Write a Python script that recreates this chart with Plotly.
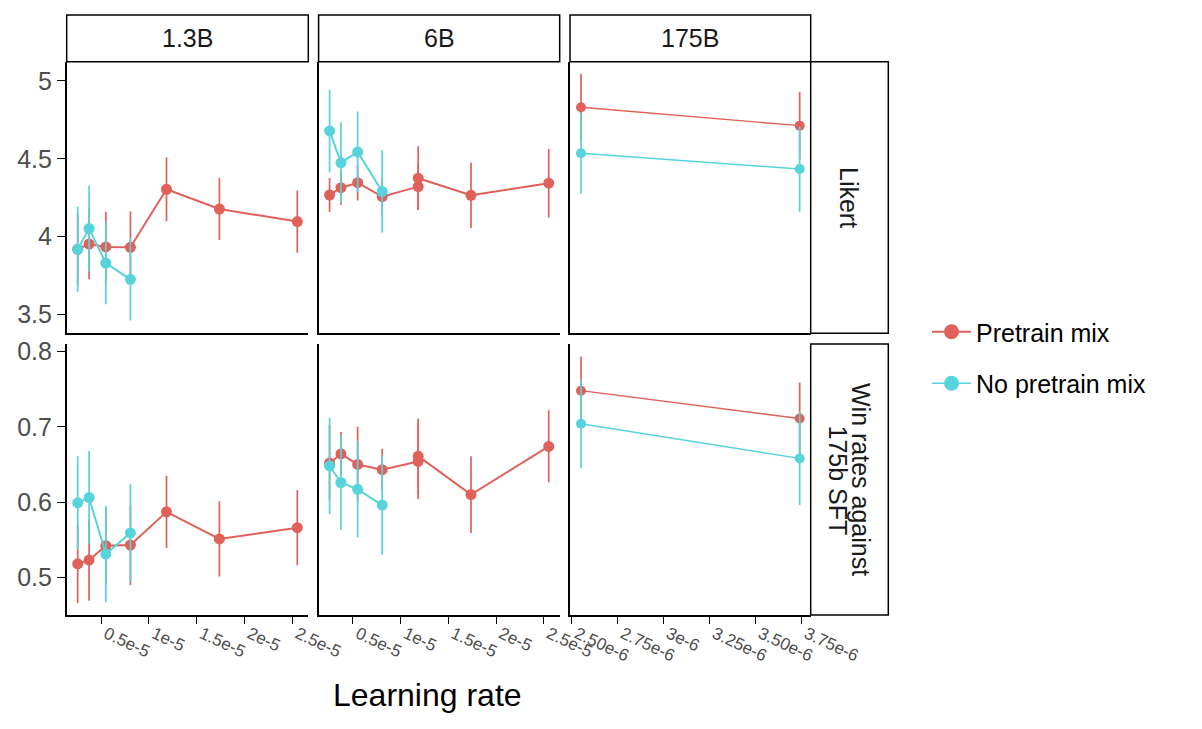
import plotly.graph_objects as go

# learning rates (x)
lr_small = [2.55e-6, 3.74e-6, 5.49e-6, 8.06e-6, 1.183e-5, 1.736e-5, 2.55e-5]
lr_6b_mix = [2.55e-6, 3.74e-6, 5.49e-6, 8.06e-6, 1.183e-5, 1.183e-5, 1.736e-5, 2.55e-5]
lr_no_mix = [2.55e-6, 3.74e-6, 5.49e-6, 8.06e-6]
lr_175b = [2.55e-6, 3.74e-6]

# Likert
likert_13b_mix = [3.918, 3.952, 3.933, 3.931, 4.304, 4.177, 4.096]
likert_13b_mix_err = [0.23, 0.227, 0.227, 0.23, 0.205, 0.2, 0.2]
likert_13b_nomix = [3.918, 4.051, 3.83, 3.725]
likert_13b_nomix_err = [0.275, 0.276, 0.265, 0.265]
likert_6b_mix = [4.267, 4.314, 4.346, 4.256, 4.321, 4.375, 4.265, 4.343]
likert_6b_mix_err = [0.11, 0.11, 0.115, 0.12, 0.15, 0.205, 0.21, 0.22]
likert_6b_nomix = [4.679, 4.475, 4.544, 4.289]
likert_6b_nomix_err = [0.265, 0.26, 0.26, 0.265]
likert_175b_mix = [4.831, 4.713]
likert_175b_mix_err = [0.214, 0.216]
likert_175b_nomix = [4.535, 4.434]
likert_175b_nomix_err = [0.26, 0.274]

# Win rates against 175b SFT
win_13b_mix = [0.518, 0.523, 0.542, 0.543, 0.587, 0.551, 0.566]
win_13b_mix_err = [0.052, 0.054, 0.05, 0.053, 0.048, 0.05, 0.05]
win_13b_nomix = [0.599, 0.606, 0.531, 0.559]
win_13b_nomix_err = [0.062, 0.062, 0.064, 0.065]
win_6b_mix = [0.652, 0.664, 0.650, 0.643, 0.654, 0.661, 0.610, 0.674]
win_6b_mix_err = [0.05, 0.029, 0.05, 0.028, 0.05, 0.05, 0.051, 0.048]
win_6b_nomix = [0.648, 0.626, 0.617, 0.596]
win_6b_nomix_err = [0.064, 0.063, 0.064, 0.066]
win_175b_mix = [0.748, 0.711]
win_175b_mix_err = [0.045, 0.048]
win_175b_nomix = [0.704, 0.658]
win_175b_nomix_err = [0.059, 0.062]

models = ["1.3B", "6B", "175B"]
metrics = ["Likert", "Win rates against", "175b SFT"]
series_names = ["Pretrain mix", "No pretrain mix"]
colors = ["#E0605A", "#57D3DB"]

small_ticks = [0.5e-5, 1e-5, 1.5e-5, 2e-5, 2.5e-5]
small_ticktext = ["0.5e-5", "1e-5", "1.5e-5", "2e-5", "2.5e-5"]
big_ticks = [2.5e-6, 2.75e-6, 3e-6, 3.25e-6, 3.5e-6, 3.75e-6]
big_ticktext = ["2.50e-6", "2.75e-6", "3e-6", "3.25e-6", "3.50e-6", "3.75e-6"]
likert_ticks = [3.5, 4, 4.5, 5]
likert_ticktext = ["3.5", "4", "4.5", "5"]
win_ticks = [0.5, 0.6, 0.7, 0.8]
win_ticktext = ["0.5", "0.6", "0.7", "0.8"]

# page is 1202x729, body has an 8px margin
OFF = 8
W, H = 1202 - 2 * OFF, 729 - 2 * OFF
FONT = "Liberation Sans, Arial, Helvetica, sans-serif"

# pixel layout of the facet grid (page coordinates)
col_px = [(66.7, 308.3), (318.6, 559.7), (570.0, 810.7)]
row_px = [(61.7, 333.3), (344.0, 615.0)]
strip_top = (15.0, 61.7)
strip_right = (810.7, 888.3)


def fx(p):
    return (p - OFF) / W


def fy(p):
    return 1 - (p - OFF) / H


panels = [
    [
        (lr_small, likert_13b_mix, likert_13b_mix_err, lr_no_mix, likert_13b_nomix, likert_13b_nomix_err),
        (lr_6b_mix, likert_6b_mix, likert_6b_mix_err, lr_no_mix, likert_6b_nomix, likert_6b_nomix_err),
        (lr_175b, likert_175b_mix, likert_175b_mix_err, lr_175b, likert_175b_nomix, likert_175b_nomix_err),
    ],
    [
        (lr_small, win_13b_mix, win_13b_mix_err, lr_no_mix, win_13b_nomix, win_13b_nomix_err),
        (lr_6b_mix, win_6b_mix, win_6b_mix_err, lr_no_mix, win_6b_nomix, win_6b_nomix_err),
        (lr_175b, win_175b_mix, win_175b_mix_err, lr_175b, win_175b_nomix, win_175b_nomix_err),
    ],
]

fig = go.Figure()
layout = {}

for r in range(2):
    for c in range(3):
        k = r * 3 + c + 1
        sfx = "" if k == 1 else str(k)
        xm, ym, em, xn, yn, en = panels[r][c]
        big = c == 2
        lw = 1.4 if big else 2
        ms = 10 if big else 11
        for s, (xs, ys, es) in enumerate([(xm, ym, em), (xn, yn, en)]):
            fig.add_trace(go.Scatter(
                x=xs, y=ys, mode="lines+markers",
                name=series_names[s],
                legendgroup=series_names[s],
                showlegend=False,
                line=dict(color=colors[s], width=lw),
                marker=dict(color=colors[s], size=ms),
                error_y=dict(type="data", array=es, visible=True,
                             color=colors[s], thickness=1.7, width=0),
                xaxis="x" + sfx, yaxis="y" + sfx,
            ))

        bottom = r == 1
        left = c == 0
        layout["xaxis" + sfx] = dict(
            domain=[fx(col_px[c][0]), fx(col_px[c][1])],
            anchor="y" + sfx,
            range=[2.49e-6, 3.80e-6] if big else [0.14e-5, 2.665e-5],
            tickvals=(big_ticks if big else small_ticks) if bottom else [],
            ticktext=(big_ticktext if big else small_ticktext) if bottom else [],
            ticks="outside" if bottom else "",
            ticklen=7, tickwidth=1.4, tickcolor="black",
            tickangle=25, ticklabelshift=5, ticklabelstandoff=-6,
            tickfont=dict(size=17, color="#4D4D4D", family=FONT),
            showline=True, linecolor="black", linewidth=1.5,
            showgrid=False, zeroline=False, automargin=False,
        )
        layout["yaxis" + sfx] = dict(
            domain=[fy(row_px[r][1]), fy(row_px[r][0])],
            anchor="x" + sfx,
            range=[3.378, 5.124] if r == 0 else [0.45, 0.81],
            tickvals=(likert_ticks if r == 0 else win_ticks) if left else [],
            ticktext=(likert_ticktext if r == 0 else win_ticktext) if left else [],
            ticks="outside" if left else "",
            ticklen=8, tickwidth=1.4, tickcolor="black",
            tickfont=dict(size=25, color="#4D4D4D", family=FONT),
            showline=True, linecolor="black", linewidth=1.5,
            showgrid=False, zeroline=False, automargin=False,
        )

# legend-only entries
for s in range(2):
    fig.add_trace(go.Scatter(
        x=[None], y=[None], mode="lines+markers", name=series_names[s],
        legendgroup=series_names[s], showlegend=True,
        line=dict(color=colors[s], width=2.2 if s == 0 else 1.5),
        marker=dict(color=colors[s], size=15),
    ))

shapes = []
annotations = []
strip_font = dict(size=25, color="#1A1A1A", family=FONT)
# column strips
for c, name in enumerate(models):
    x0, x1 = col_px[c]
    shapes.append(dict(type="rect", xref="paper", yref="paper",
                       x0=fx(x0), x1=fx(x1), y0=fy(strip_top[1]), y1=fy(strip_top[0]),
                       line=dict(color="black", width=1.5), fillcolor="white"))
    annotations.append(dict(text=name, xref="paper", yref="paper",
                            x=fx((x0 + x1) / 2), y=fy((strip_top[0] + strip_top[1]) / 2),
                            xanchor="center", yanchor="middle",
                            showarrow=False, font=strip_font))
# row strips
for r in range(2):
    y0, y1 = row_px[r]
    shapes.append(dict(type="rect", xref="paper", yref="paper",
                       x0=fx(strip_right[0]), x1=fx(strip_right[1]), y0=fy(y1), y1=fy(y0),
                       line=dict(color="black", width=1.5), fillcolor="white"))
ymid0 = (row_px[0][0] + row_px[0][1]) / 2
ymid1 = (row_px[1][0] + row_px[1][1]) / 2
xmid = (strip_right[0] + strip_right[1]) / 2
for txt, xc, yc in [(metrics[0], xmid, ymid0),
                    (metrics[1], xmid + 12, ymid1),
                    (metrics[2], xmid - 11.5, ymid1 + 1)]:
    annotations.append(dict(text=txt, xref="paper", yref="paper", x=fx(xc), y=fy(yc),
                            xanchor="center", yanchor="middle",
                            textangle=90, showarrow=False, font=strip_font))
# x title
annotations.append(dict(text="Learning rate", xref="paper", yref="paper",
                        x=fx(427), y=fy(695), xanchor="center", yanchor="middle",
                        showarrow=False,
                        font=dict(size=32, color="black", family=FONT)))

fig.update_layout(
    **layout,
    width=W, height=H,
    margin=dict(l=0, r=0, t=0, b=0, autoexpand=False),
    plot_bgcolor="white", paper_bgcolor="white",
    shapes=shapes, annotations=annotations,
    showlegend=True,
    legend=dict(x=fx(927), y=fy(309), xanchor="left", yanchor="top",
                font=dict(size=25, color="black", family=FONT),
                itemwidth=39, tracegroupgap=16, bgcolor="rgba(0,0,0,0)"),
    font=dict(family=FONT),
)

fig.write_html("out.html")
